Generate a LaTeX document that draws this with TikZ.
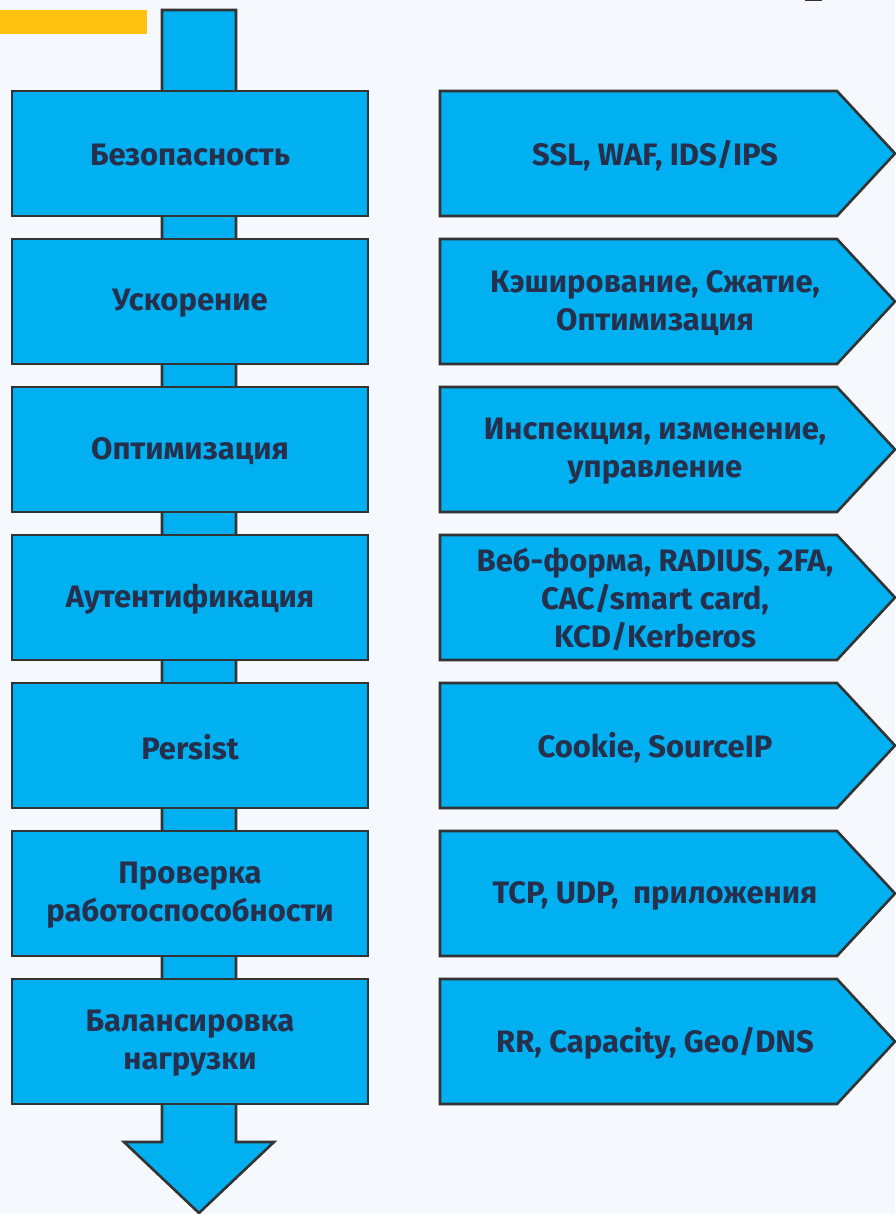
\documentclass[tikz,border=0pt]{standalone}
\usepackage{fontspec}
\setmainfont{Fira Sans}
\definecolor{bg}{HTML}{F5F8FC}
\definecolor{boxfill}{HTML}{00B0F0}
\definecolor{edge}{HTML}{333333}
\definecolor{txt}{HTML}{262F4B}
\definecolor{yel}{HTML}{FFC20E}
\tikzset{
  blueshape/.style={fill=boxfill, draw=edge, line width=2.6pt, line join=miter},
  lbl/.style={font=\fontsize{31}{38}\selectfont\bfseries, text=txt, align=center, inner sep=0pt},
}
\begin{document}
\begin{tikzpicture}[x=1pt,y=-1pt]
\useasboundingbox (0,0) rectangle (895,1214);
\fill[bg] (0,0) rectangle (895,1214);
\fill[yel] (0,10) rectangle (147,34);
\fill[edge] (805,0) rectangle (822,1.5);
% main flow arrow
\draw[blueshape] (162,10) -- (236,10) -- (236,1142) -- (274,1142) -- (199,1213) -- (124,1142) -- (162,1142) -- cycle;
\foreach \i/\l/\r in {
  0/{Безопасность}/{SSL, WAF, IDS/IPS},
  1/{Ускорение}/{Кэширование, Сжатие,\\Оптимизация},
  2/{Оптимизация}/{Инспекция, изменение,\\управление},
  3/{Аутентификация}/{Веб-форма, RADIUS, 2FA,\\CAC/smart card,\\KCD/Kerberos},
  4/{Persist}/{Cookie, SourceIP},
  5/{Проверка\\работоспособности}/{TCP, UDP,\ \ приложения},
  6/{Балансировка\\нагрузки}/{RR, Capacity, Geo/DNS}}
{
  \pgfmathsetmacro{\t}{91+148*\i}
  \pgfmathsetmacro{\b}{\t+125}
  \pgfmathsetmacro{\m}{\t+64.5}
  \draw[blueshape] (12,\t) rectangle (368,\b);
  \node[lbl] (left\i) at (190,\m) {\l};
  \draw[blueshape] (440,\t) -- (837,\t) -- (895,\t+62.5) -- (837,\b) -- (440,\b) -- cycle;
  \node[lbl] (right\i) at (655,\m) {\r};
}
\end{tikzpicture}
\end{document}
